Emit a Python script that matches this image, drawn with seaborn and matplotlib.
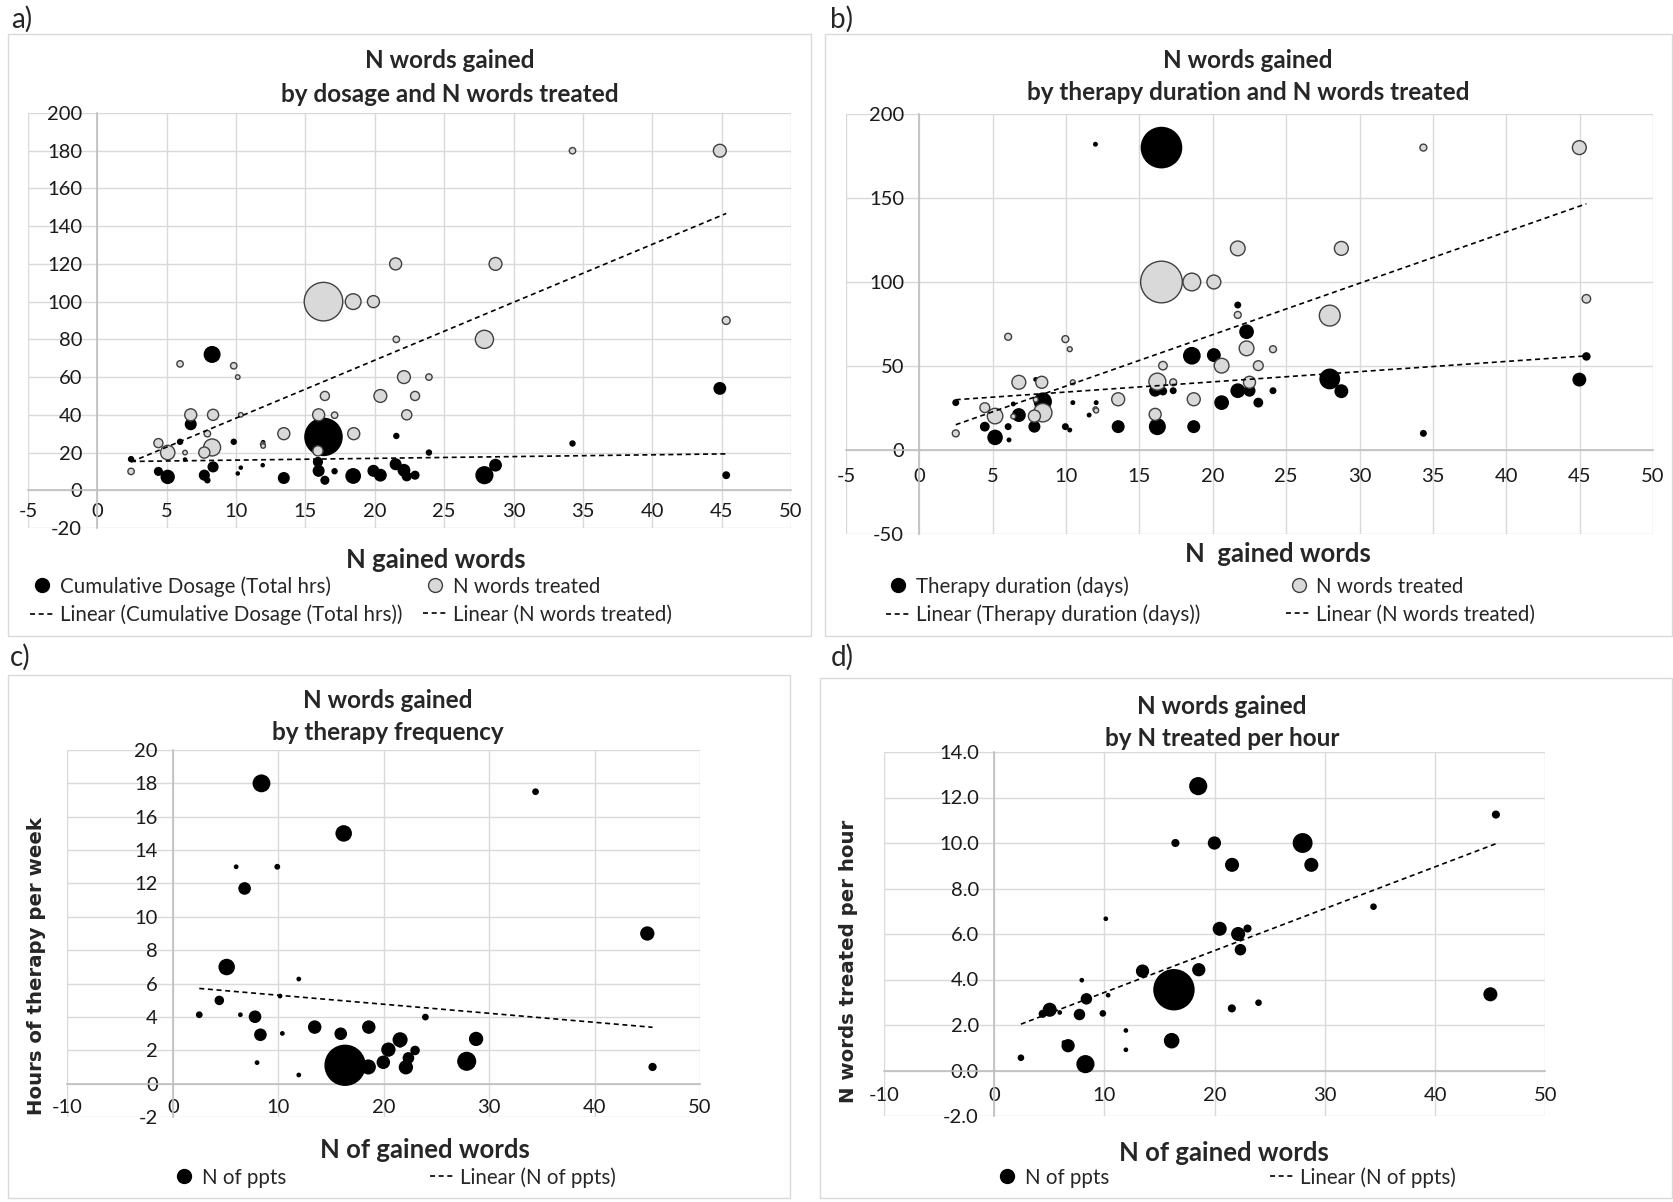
import numpy as np
import pandas as pd
import matplotlib
matplotlib.use("Agg")
import matplotlib.pyplot as plt
import seaborn as sns
from matplotlib.lines import Line2D
from matplotlib.patches import Rectangle
from matplotlib.ticker import MultipleLocator, FormatStrFormatter

sns.set_style("white")
plt.rcParams["font.family"] = ["Lato", "DejaVu Sans"]

W, H = 1674, 1202

# ---- a) words gained vs cumulative dosage / N words treated ----
a_gained = [2.43, 4.4, 5.07, 5.96, 6.32, 6.73, 7.71, 7.93, 8.27, 8.34, 9.83, 10.12,
            10.34, 11.92, 11.95, 13.44, 15.9, 15.95, 16.3, 16.4, 17.1, 18.44, 18.48,
            19.9, 20.4, 21.5, 21.55, 22.1, 22.3, 22.9, 23.9, 27.9, 28.7, 34.25, 44.87, 45.33]
a_ppts = [2, 4, 10, 2, 1, 7, 6, 2, 14, 6, 2, 1,
          1, 1, 1, 7, 5, 7, 72, 4, 2, 12, 7,
          7, 8, 7, 2, 8, 5, 4, 2, 16, 8, 2, 8, 3]
a_dosage = [16.5, 10, 7.1, 25.7, 16.3, 35, 8.0, 5.3, 72, 12.4, 25.7, 8.9,
            12, 13.3, 25.5, 6.5, 15, 10.3, 28.3, 5.3, 10.1, 7.6, 6.8,
            10.3, 8.0, 13.8, 28.8, 10.6, 7.4, 8.0, 20, 8.0, 13.3, 24.8, 54, 8.0]
a_treated = [10, 25, 20, 67, 20, 40, 20, 30, 22.7, 40, 66, 60,
             40, 24.4, 23.5, 30, 20.9, 40, 100, 50, 39.8, 100, 30,
             100, 50, 120, 80, 60, 40, 50, 60, 80, 120, 180, 180, 90]

# ---- b) words gained vs therapy duration / N words treated ----
b_gained = [2.48, 4.46, 5.16, 6.05, 6.4, 6.11, 6.78, 7.84, 7.93, 8.41, 8.34, 9.95,
            10.25, 10.46, 11.57, 12.0, 12.05, 13.55, 16.07, 16.22, 16.5, 16.6, 17.3,
            18.57, 18.7, 20.07, 20.6, 21.7, 21.7, 22.3, 22.5, 23.1, 24.1, 27.97,
            28.76, 34.35, 44.98, 45.46]
b_ppts = [2, 4, 10, 2, 1, 1, 8, 6, 1, 14, 6, 2,
          1, 1, 1, 1, 1, 7, 6, 12, 72, 3, 2,
          13, 7, 8, 9, 2, 9, 9, 6, 4, 2, 18,
          8, 2, 8, 3]
b_duration = [28.2, 13.9, 7.5, 13.9, 27.4, 6, 20.8, 13.9, 42, 28.8, 30, 13.9,
              11.9, 28.2, 20.8, 182, 28.2, 13.9, 35.3, 13.9, 180, 35, 35.3,
              56.1, 13.9, 56.5, 28.2, 86.3, 35.3, 70.4, 35.3, 28.2, 35.3, 42.3,
              35, 9.9, 41.9, 55.7]
b_treated = [9.9, 25.2, 20.2, 67.4, 20, np.nan, 40.3, 20.2, 30, 22.2, 40.3, 66,
             60, 40.3, np.nan, 24.2, 23.5, 30.2, 21.2, 40.7, 100, 50.2, 40.3,
             100, 30.2, 100, 50.2, 80.4, 120, 60.5, 40.3, 50.2, 60, 80,
             120, 180, 180, 90]

# ---- c) words gained vs hours of therapy per week ----
c_gained = [2.5, 4.4, 5.1, 6.0, 6.4, 6.8, 7.79, 7.98, 8.3, 8.4, 9.9, 10.16,
            10.38, 11.94, 11.94, 13.45, 15.92, 16.2, 16.33, 16.4, 17.1, 18.54, 18.58,
            19.96, 20.44, 21.55, 21.55, 22.1, 22.34, 22.97, 23.95, 27.87, 28.76,
            34.4, 45.0, 45.5]
c_ppts = [2, 4, 12, 1, 1, 7, 7, 1, 7, 14, 1.5, 1,
          1, 1, 1, 8, 7, 12, 75, 4, 2, 10, 8,
          8, 9, 10, 2, 9, 6, 4, 2, 16, 9,
          2, 9, 3]
c_hours_week = [4.13, 4.99, 6.99, 13.0, 4.13, 11.7, 4.01, 1.26, 2.93, 18.0, 13.0, 5.25,
                3.01, 6.27, 0.52, 3.39, 2.99, 15.0, 1.1, 1.06, 2.0, 1.0, 3.39,
                1.28, 2.04, 2.63, 2.36, 0.98, 1.54, 1.99, 3.99, 1.34, 2.68,
                17.5, 9.0, 1.0]

# ---- d) words gained vs N words treated per hour ----
d_gained = [2.42, 4.39, 5.03, 5.94, 6.32, 6.7, 7.73, 7.94, 8.27, 8.36, 9.85, 10.12,
            10.33, 11.94, 11.94, 13.45, 16.06, 16.09, 16.3, 16.43, 17.1, 18.5, 18.55,
            19.97, 20.45, 21.55, 21.57, 22.12, 22.33, 22.97, 23.97, 27.97, 28.76,
            34.4, 45.0, 45.5]
d_ppts = [2, 3, 9, 1, 1, 8, 6, 1, 15, 6, 2, 1,
          1, 1, 1, 8, 7, 11, 78, 3, 2, 15, 8,
          8, 9, 3, 9, 9, 6, 3, 2, 18, 9,
          2, 9, 3]
d_per_hour = [0.56, 2.49, 2.67, 2.55, 1.23, 1.09, 2.46, 3.97, 0.28, 3.15, 2.51, 6.67,
              3.31, 1.76, 0.91, 4.37, 3.9, 1.31, 3.55, 10.0, 3.9, 12.5, 4.43,
              10.0, 6.23, 2.73, 9.04, 6.0, 5.31, 6.24, 2.98, 10.0, 9.04,
              7.2, 3.35, 11.25]

GRAY = "#d9d9d9"
EDGE = "#404040"
DASH = (0, (3, 2.2))
LEG_FS = 14.8

fig = plt.figure(figsize=(W / 100, H / 100), dpi=100)


def px_axes(l, r, t, b):
    return fig.add_axes([l / W, 1 - b / H, (r - l) / W, (b - t) / H])


def excel_axes(ax, xlim, ylim, xstep, ystep, xpad, ypad, yfmt="%d"):
    ax.set_xlim(xlim)
    ax.set_ylim(ylim)
    ax.xaxis.set_major_locator(MultipleLocator(xstep))
    ax.yaxis.set_major_locator(MultipleLocator(ystep))
    ax.yaxis.set_major_formatter(FormatStrFormatter(yfmt))
    ax.xaxis.set_major_formatter(FormatStrFormatter("%d"))
    for side in ["top", "right"]:
        ax.spines[side].set_visible(False)
    for side in ["left", "bottom"]:
        ax.spines[side].set_position(("data", 0))
        ax.spines[side].set_color("#bfbfbf")
        ax.spines[side].set_linewidth(1.2)
    ax.set_axisbelow(True)
    ax.grid(True, color="#d9d9d9", lw=1.0)
    ax.tick_params(axis="x", length=0, pad=xpad, labelsize=14.5, labelcolor="#1a1a1a")
    ax.tick_params(axis="y", length=0, pad=ypad, labelsize=14.5, labelcolor="#1a1a1a")
    ax.set(xlabel="", ylabel="")


def bubbles(ax, x, y, n, face, edge, lw, k):
    df = pd.DataFrame({"x": x, "y": y, "n": n}).dropna()
    df = df.sort_values("n", ascending=False)
    sns.scatterplot(data=df, x="x", y="y", size="n", sizes=(0, 100 * k), size_norm=(0, 100),
                    color=face, edgecolor=edge, linewidth=lw, legend=False, ax=ax, zorder=3)


def trend(ax, x, y):
    sns.regplot(x=np.array(x, dtype=float), y=np.array(y, dtype=float), scatter=False, ci=None,
                truncate=True, ax=ax, line_kws=dict(color="black", lw=1.2, ls=DASH, zorder=4))


def legend(ax, handles, labels, x, y, colspace):
    ax.legend(handles, labels, ncol=2, loc="upper left", bbox_to_anchor=(x / W, 1 - y / H),
              bbox_transform=fig.transFigure, frameon=False, fontsize=LEG_FS, handlelength=1.2,
              handletextpad=0.25, columnspacing=colspace, labelspacing=0.38, borderpad=0,
              borderaxespad=0)


def frame(l, t, r, b):
    fig.patches.append(Rectangle((l / W, 1 - b / H), (r - l) / W, (b - t) / H,
                                 transform=fig.transFigure, fill=False,
                                 edgecolor="#d9d9d9", lw=1.0))


def label(x, y, s, **kw):
    fig.text(x / W, 1 - y / H, s, ha="center", va="center", **kw)


black_dot = Line2D([], [], marker="o", ls="none", mfc="black", mec="black", ms=10)
gray_dot = Line2D([], [], marker="o", ls="none", mfc=GRAY, mec=EDGE, ms=10, mew=1)
dash_line = Line2D([], [], color="black", lw=1.2, ls=DASH)

# chart area frames and panel letters
frame(8.5, 34, 811, 636)
frame(825, 34, 1672, 636)
frame(8.5, 675, 790, 1198)
frame(820, 678, 1672, 1198)
for s, x, y in [("a)", 22, 19), ("b)", 842, 19), ("c)", 20, 657), ("d)", 842, 657)]:
    label(x, y, s, fontsize=20)

TITLE_FS = 17.5
XLAB_FS = 18.5

# ---- panel a ----
ax = px_axes(28, 791, 113, 528)
trend(ax, a_gained, a_dosage)
trend(ax, a_gained, a_treated)
bubbles(ax, a_gained, a_dosage, a_ppts, "black", "black", 0, 10.7)
bubbles(ax, a_gained, a_treated, a_ppts, GRAY, EDGE, 1.0, 10.7)
excel_axes(ax, (-5, 50), (-20, 200), 5, 20, 9, 11)
label(450, 61, "N words gained", fontsize=TITLE_FS, fontweight="bold")
label(450, 94, "by dosage and N words treated", fontsize=TITLE_FS, fontweight="bold")
label(436, 560, "N gained words", fontsize=XLAB_FS, fontweight="bold")
legend(ax, [black_dot, dash_line, gray_dot, dash_line],
       ["Cumulative Dosage (Total hrs)", "Linear (Cumulative Dosage (Total hrs))",
        "N words treated", "Linear (N words treated)"], 30, 576, 1.0)

# ---- panel b ----
ax = px_axes(846, 1653, 114, 534)
trend(ax, b_gained, b_duration)
trend(ax, b_gained, b_treated)
bubbles(ax, b_gained, b_duration, b_ppts, "black", "black", 0, 12.5)
bubbles(ax, b_gained, b_treated, b_ppts, GRAY, EDGE, 1.0, 12.5)
excel_axes(ax, (-5, 50), (-50, 200), 5, 50, 13, 11)
label(1248, 60, "N words gained", fontsize=TITLE_FS, fontweight="bold")
label(1248, 93, "by therapy duration and N words treated", fontsize=TITLE_FS, fontweight="bold")
label(1278, 554, "N  gained words", fontsize=XLAB_FS, fontweight="bold")
legend(ax, [black_dot, dash_line, gray_dot, dash_line],
       ["Therapy duration (days)", "Linear (Therapy duration (days))",
        "N words treated", "Linear (N words treated)"], 886, 576, 4.2)

# ---- panel c ----
ax = px_axes(67.5, 700, 750, 1117)
trend(ax, c_gained, c_hours_week)
bubbles(ax, c_gained, c_hours_week, c_ppts, "black", "black", 0, 11.8)
excel_axes(ax, (-10, 50), (-2, 20), 10, 2, 11, 11)
label(388, 701, "N words gained", fontsize=TITLE_FS, fontweight="bold")
label(388, 733, "by therapy frequency", fontsize=TITLE_FS, fontweight="bold")
label(425, 1150, "N of gained words", fontsize=XLAB_FS, fontweight="bold")
label(37, 966, "Hours of therapy per week", fontsize=14.2, fontweight="bold",
      rotation=90, family="DejaVu Sans")
legend(ax, [black_dot, dash_line], ["N of ppts", "Linear (N of ppts)"], 172, 1167, 7.0)

# ---- panel d ----
ax = px_axes(884, 1545.5, 752, 1116)
trend(ax, d_gained, d_per_hour)
bubbles(ax, d_gained, d_per_hour, d_ppts, "black", "black", 0, 11.4)
excel_axes(ax, (-10, 50), (-2, 14), 10, 2, 12, 11, yfmt="%.1f")
label(1222, 707, "N words gained", fontsize=TITLE_FS, fontweight="bold")
label(1222, 738, "by N treated per hour", fontsize=TITLE_FS, fontweight="bold")
label(1224, 1153, "N of gained words", fontsize=XLAB_FS, fontweight="bold")
label(849, 961, "N words treated per hour", fontsize=14.2, fontweight="bold",
      rotation=90, family="DejaVu Sans")
legend(ax, [black_dot, dash_line], ["N of ppts", "Linear (N of ppts)"], 995, 1167, 7.85)

fig.savefig("out.png", dpi=100)
